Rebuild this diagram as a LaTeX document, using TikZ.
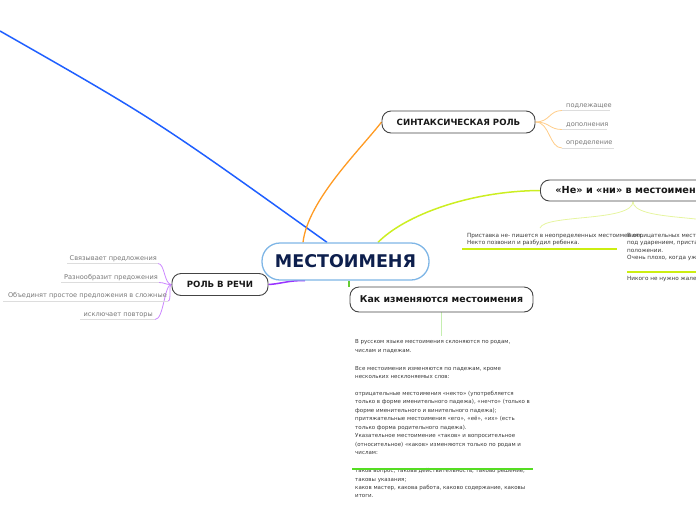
\documentclass[tikz,border=0pt]{standalone}
\usepackage{fontspec}
\setmainfont{DejaVu Sans}
\usetikzlibrary{backgrounds,calc}
\definecolor{navy}{HTML}{0D1F4D}
\definecolor{cborder}{HTML}{7FB6E6}
\definecolor{tborder}{HTML}{444444}
\definecolor{subgray}{HTML}{777777}
\definecolor{notegray}{HTML}{3A3A3A}
\definecolor{ulgray}{HTML}{DDDDDD}
\definecolor{bluec}{HTML}{1F5FFF}
\definecolor{orangec}{HTML}{FF9A22}
\definecolor{orangel}{HTML}{FFCC88}
\definecolor{limec}{HTML}{CCEE22}
\definecolor{limel}{HTML}{E6F5A0}
\definecolor{limeul}{HTML}{CCEE11}
\definecolor{greenc}{HTML}{66CC33}
\definecolor{greenl}{HTML}{C5EEB0}
\definecolor{greenul}{HTML}{55DD22}
\definecolor{purplec}{HTML}{9933FF}
\definecolor{purplel}{HTML}{CC88FF}
\begin{document}
\begin{tikzpicture}[x=1pt,y=-1pt,
  central/.style={draw=cborder, line width=1.3pt, rounded corners=18pt, fill=white,
    minimum width=167pt, minimum height=37pt, inner sep=0pt,
    font=\bfseries\fontsize{17.5}{20}\selectfont, text=navy},
  topic/.style={draw=tborder, line width=0.9pt, rounded corners=9pt, fill=white,
    inner sep=0pt, font=\bfseries\fontsize{8.6}{10}\selectfont, text=black!90},
  subitem/.style={font=\fontsize{6.6}{8}\selectfont, text=subgray, inner sep=0pt},
  note/.style={font=\fontsize{5.7}{7.2}\selectfont, text=notegray, align=left, inner sep=0pt},
  bignote/.style={font=\fontsize{5.5}{8.45}\selectfont, text=notegray, align=left, inner sep=0pt},
  ulg/.style={draw=ulgray, line width=0.8pt},
  ull/.style={draw=limeul, line width=2pt},
]
\useasboundingbox (0,0) rectangle (696,520);

% main nodes
\node[central] (c) at (345.5,261.5) {МЕСТОИМЕНЯ};
\node[topic, minimum width=153pt, minimum height=22pt] (syn) at (458.5,122) {СИНТАКСИЧЕСКАЯ РОЛЬ};
\node[topic, minimum height=21pt, inner xsep=15pt, anchor=west, font=\bfseries\fontsize{9.7}{11}\selectfont] (ne) at (540,190.5) {«Не» и «ни» в местоимениях};
\node[topic, minimum width=96pt, minimum height=22pt] (role) at (220,284.5) {РОЛЬ В РЕЧИ};
\node[topic, minimum width=183pt, minimum height=25pt, font=\bfseries\fontsize{9.4}{11}\selectfont] (how) at (441.5,299.5) {Как изменяются местоимения};

% syntax items
\node[subitem, anchor=base west] (s1) at (566,107) {подлежащее};
\node[subitem, anchor=base west] (s2) at (566,126) {дополнения};
\node[subitem, anchor=base west] (s3) at (566,144.5) {определение};
\coordinate (s1l) at ($(s1.base west)+(-4,3.5)$);
\coordinate (s2l) at ($(s2.base west)+(-4,3.5)$);
\coordinate (s3l) at ($(s3.base west)+(-4,3.5)$);
\draw[ulg] (s1l) -- ($(s1.base east)+(-2,3.5)$);
\draw[ulg] (s2l) -- ($(s2.base east)+(-2,3.5)$);
\draw[ulg] (s3l) -- ($(s3.base east)+(1,3.5)$);

% role items
\node[subitem, anchor=base east] (r1) at (157,260) {Связывает предложения};
\node[subitem, anchor=base east] (r2) at (158,279) {Разнообразит предожения};
\node[subitem, anchor=base east] (r3) at (167,297.5) {Объединят простое предложения в сложные};
\node[subitem, anchor=base east] (r4) at (153,316) {исключает  повторы};
\coordinate (r1r) at ($(r1.base east)+(1,3.5)$);
\coordinate (r2r) at ($(r2.base east)+(1,3.5)$);
\coordinate (r3r) at ($(r3.base east)+(1,3.5)$);
\coordinate (r4r) at ($(r4.base east)+(2,3.5)$);
\draw[ulg] (r1r) -- ($(r1.base west)+(-3,3.5)$);
\draw[ulg] (r2r) -- ($(r2.base west)+(-3,3.5)$);
\draw[ulg] (r3r) -- ($(r3.base west)+(-5,3.5)$);
\draw[ulg] (r4r) -- ($(r4.base west)+(-3,3.5)$);

% ne notes
\node[note, anchor=north west] (n1) at (467,233.3) {Приставка не- пишется в неопределенных местоимениях.\\Некто позвонил и разбудил ребенка.};
\node[note, anchor=north west] (n2) at (627,233.3) {В отрицательных местоимениях не- пишется\\под ударением, приставка ни- в безударном\\положении.\\Очень плохо, когда уже некому помочь.};
\node[note, anchor=north west] (n3) at (627,276.3) {Никого не нужно жалеть.};
\draw[ull] (462,249) -- (617,249);
\draw[ull] (627,271.5) -- (700,271.5);
\coordinate (n1top) at (540,228);
\coordinate (n2top) at (726,228);

% big text block
\node[bignote, anchor=north west] (b1) at (355,339.4) {В русском языке местоимения склоняются по родам,\\
числам и падежам.\\[9.85pt]
Все местоимения изменяются по падежам, кроме\\
нескольких несклоняемых слов:\\[8.15pt]
отрицательные местоимения «некто» (употребляется\\
только в форме именительного падежа), «нечто» (только в\\
форме именительного и винительного падежа);\\
притяжательные местоимения «его», «её», «их» (есть\\
только форма родительного падежа).\\
Указательное местоимение «таков» и вопросительное\\
(относительное) «каков» изменяются только по родам и\\
числам:};
\node[bignote, anchor=north west] (b2) at (355,468.2) {таков вопрос, такова действительность, таково решение,\\
таковы указания;\\
каков мастер, какова работа, каково содержание, каковы\\
итоги.};
\coordinate (btop) at (441.5,336);
\draw[draw=greenul, line width=1.5pt] (352,468.8) -- (533,468.8);

% connectors
\coordinate (bluefree) at (0,31);
\begin{scope}[on background layer]
\draw[bluec, line width=1.5pt] (bluefree) .. controls (156,120) .. ([xshift=-18.5]c.north);
\draw[orangec, line width=1.3pt] ([xshift=-42.5]c.north) .. controls (308,200) and (360,150) .. (syn.west);
\draw[limec, line width=1.5pt] ([xshift=32.5]c.north) .. controls (405,215) and (470,191) .. (ne.west);
\draw[greenc, line width=1.5pt] ([xshift=3.5]c.south) -- ([xshift=-92.5]how.north);
\draw[purplec, line width=1.5pt] ([xshift=-40.5]c.south) .. controls (290,280) and (280,284) .. (role.east);
\draw[orangel, line width=0.8pt] (syn.east) .. controls (550,122) and ([xshift=-13]s1l) .. (s1l);
\draw[orangel, line width=0.8pt] (syn.east) .. controls (550,122) and ([xshift=-13]s2l) .. (s2l);
\draw[orangel, line width=0.8pt] (syn.east) .. controls (550,122) and ([xshift=-13]s3l) .. (s3l);
\draw[purplel, line width=0.8pt] (role.west) .. controls (164,284.5) and (165,263.5) .. (r1r);
\draw[purplel, line width=0.8pt] (role.west) .. controls (164,284.5) and (165,282.5) .. (r2r);
\draw[purplel, line width=0.8pt] (role.west) .. controls (168,284.5) and (172,301) .. (r3r);
\draw[purplel, line width=0.8pt] (role.west) .. controls (164,284.5) and (164,319.5) .. (r4r);
\draw[limel, line width=0.8pt] ([xshift=93]ne.south west) .. controls (633,222) and (545,214) .. (n1top);
\draw[limel, line width=0.8pt] ([xshift=93]ne.south west) .. controls (633,222) and (721,214) .. (n2top);
\draw[greenl, line width=0.8pt] (how.south) -- (btop);
\end{scope}
\end{tikzpicture}
\end{document}
